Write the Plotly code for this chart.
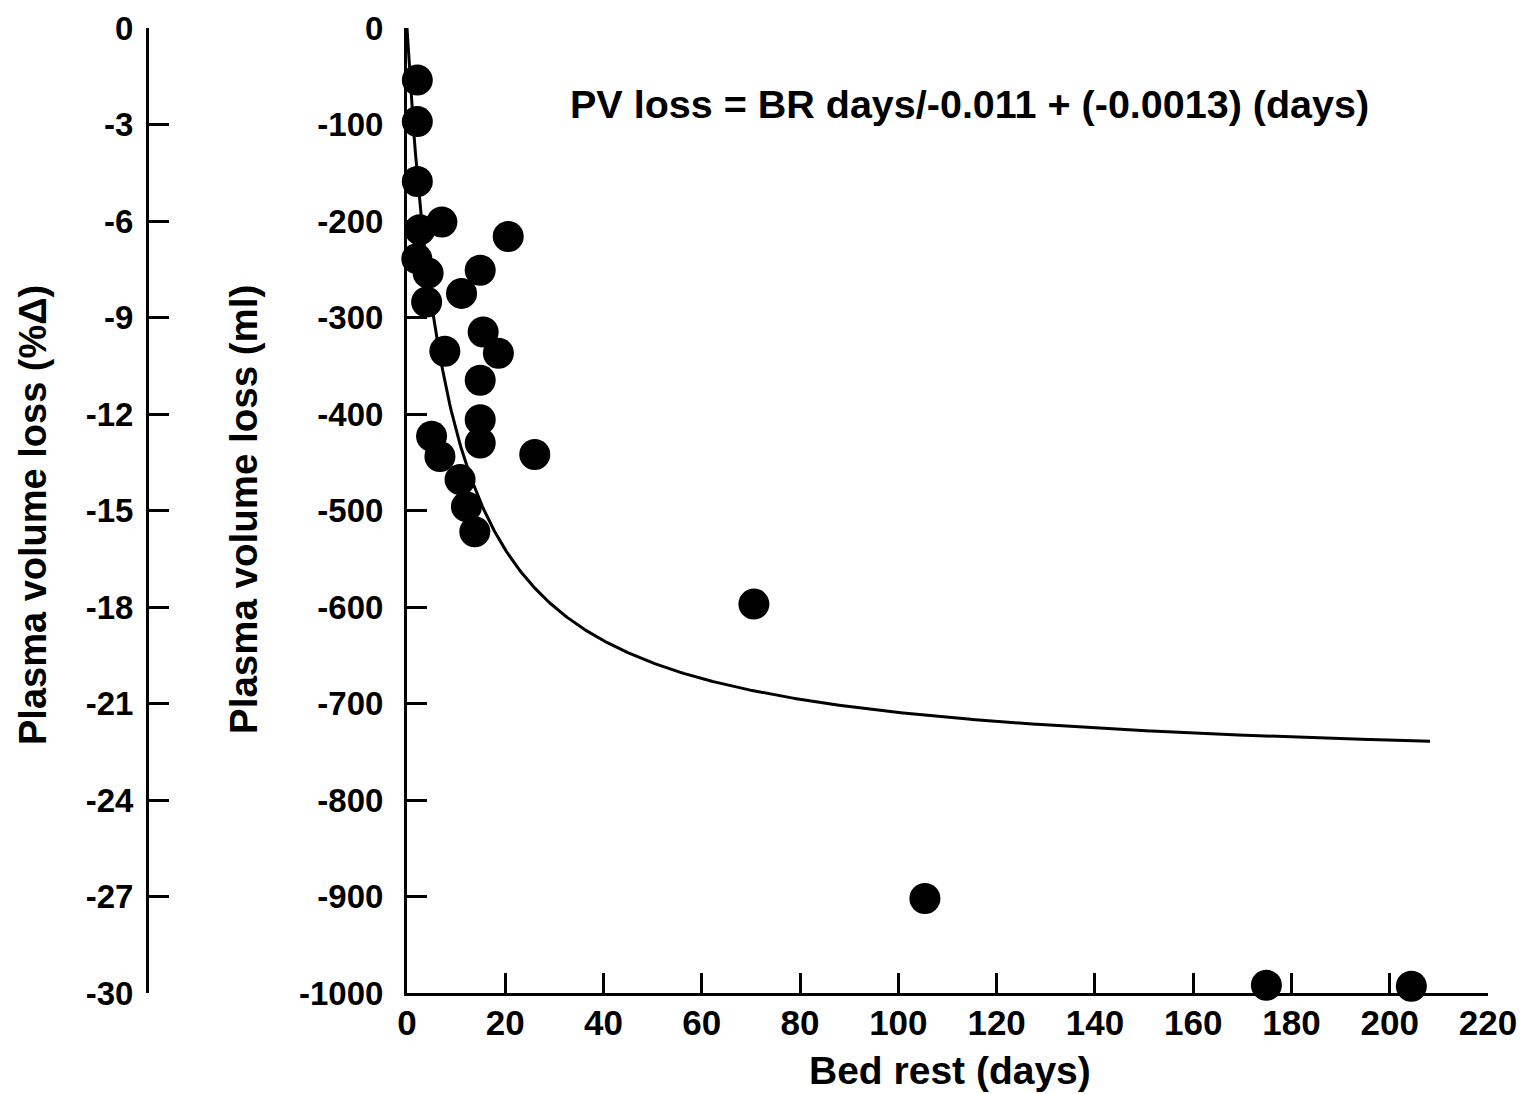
import numpy as np
import plotly.graph_objects as go

# ---- data ----
bed_rest_days = [2.1, 2.1, 2.1, 7.1, 2.6, 2.0, 4.3, 4.0, 7.7, 14.9, 11.1, 20.6,
                 15.5, 18.6, 14.9, 14.9, 14.9, 5.0, 6.7, 10.8, 12.1, 13.8, 26.0,
                 70.6, 105.4, 174.9, 204.4]
pv_loss_ml = [-54, -97, -159, -201, -209, -239, -254, -284, -335, -251, -275, -216,
              -315, -337, -365, -406, -430, -423, -444, -468, -496, -522, -442,
              -597, -902, -992, -993]

# fitted model printed on the chart: PV loss = days / (-0.011 + (-0.0013) * days)
fit_a = -0.011
fit_b = -0.0013
fit_max_day = 208.2

x_ticks = list(range(0, 221, 20))
ml_ticks = list(range(0, -1001, -100))
pct_ticks = list(range(0, -31, -3))
x_tick_text = [str(v) for v in x_ticks]
ml_tick_text = [str(v) for v in ml_ticks]
pct_tick_text = [str(v) for v in pct_ticks]

# ---- layout geometry (page pixels; the page body has an 8px margin) ----
OFF = 8
W, H = 1511, 1086
L, R, T, B = 92, 31, 20, 101
PW, PH = W - L - R, H - T - B


def px(page_x):
    return (page_x - OFF - L) / PW


def py(page_y):
    return (H - B - (page_y - OFF)) / PH


FONT = "Liberation Sans, Arial, Helvetica, sans-serif"

fit_days = np.linspace(0, fit_max_day, 600)
fit_vals = fit_days / (fit_a + fit_b * fit_days)

fig = go.Figure()
fig.add_trace(go.Scatter(x=fit_days, y=fit_vals, mode="lines",
                         line=dict(color="black", width=3),
                         hoverinfo="skip", showlegend=False))
fig.add_trace(go.Scatter(x=bed_rest_days, y=pv_loss_ml, mode="markers",
                         marker=dict(color="black", size=31, line=dict(width=0)),
                         cliponaxis=False, showlegend=False))
# invisible trace to carry the %Δ axis
fig.add_trace(go.Scatter(x=[None], y=[None], yaxis="y2", mode="markers",
                         showlegend=False, hoverinfo="skip"))

axis_common = dict(showline=True, linewidth=3, linecolor="black",
                   ticks="inside", ticklen=20, tickwidth=2.5, tickcolor="black",
                   showgrid=False, zeroline=False, automargin=False)

fig.update_layout(
    template="none",
    width=W, height=H,
    margin=dict(l=L, r=R, t=T, b=B, pad=0),
    paper_bgcolor="white", plot_bgcolor="white",
    font=dict(family=FONT, color="black"),
    showlegend=False,
    xaxis=dict(domain=[px(407), 1], range=[0, 220], tickmode="array",
               tickvals=x_ticks, ticktext=x_tick_text,
               tickfont=dict(size=35, family=FONT, weight="bold"),
               ticklabelstandoff=-3, **axis_common),
    yaxis=dict(range=[-1000, 0], tickmode="array", tickvals=ml_ticks,
               ticktext=ml_tick_text, anchor="x",
               tickfont=dict(size=33, family=FONT, weight="bold"),
               ticklabelstandoff=14, **axis_common),
    yaxis2=dict(range=[-30, 0], tickmode="array", tickvals=pct_ticks,
                ticktext=pct_tick_text, overlaying="y",
                anchor="free", position=px(147), side="left",
                tickfont=dict(size=33, family=FONT, weight="bold"),
                ticklabelstandoff=6, **axis_common),
    annotations=[
        dict(text="<b>PV loss = BR days/-0.011 + (-0.0013) (days)</b>",
             xref="paper", yref="paper", x=px(969), y=py(104),
             xanchor="center", yanchor="middle",
             showarrow=False, font=dict(size=39.5, family=FONT)),
        dict(text="<b>Bed rest (days)</b>", xref="paper", yref="paper",
             x=px(950), y=py(1070), xanchor="center", yanchor="middle",
             showarrow=False, font=dict(size=39, family=FONT)),
        dict(text="<b>Plasma volume loss (ml)</b>", xref="paper", yref="paper",
             x=px(243), y=py(510), xanchor="center", yanchor="middle",
             showarrow=False, textangle=-90, font=dict(size=38.5, family=FONT)),
        dict(text="<b>Plasma volume loss (%Δ)</b>", xref="paper", yref="paper",
             x=px(33), y=py(515), xanchor="center", yanchor="middle",
             showarrow=False, textangle=-90, font=dict(size=38, family=FONT)),
    ],
)

fig.write_html("out.html")
